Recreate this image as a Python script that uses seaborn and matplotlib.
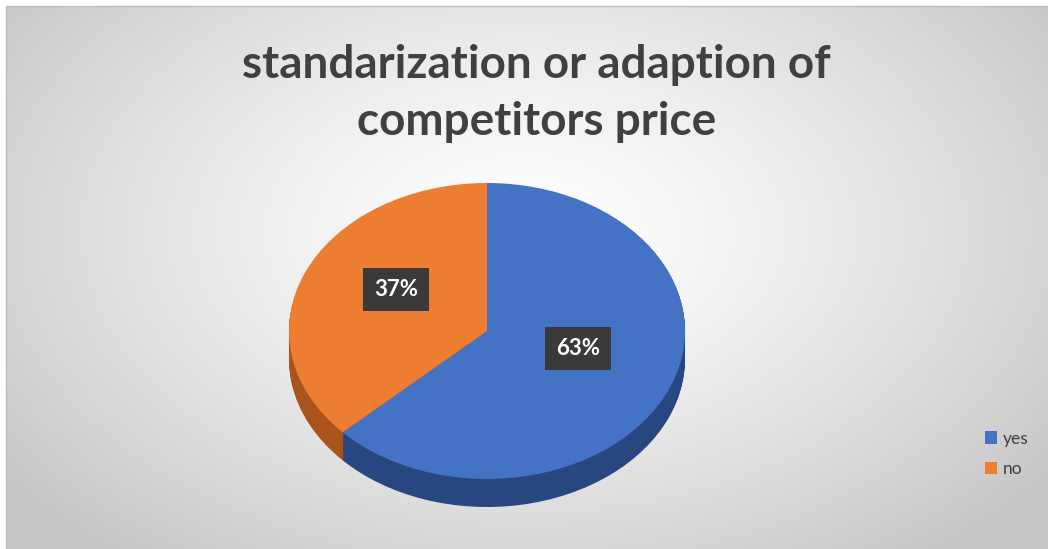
import numpy as np
import matplotlib
matplotlib.use('Agg')
import matplotlib.pyplot as plt
import seaborn as sns

# data
labels = ['yes', 'no']
shares = [63, 37]
title = 'standarization or adaption of\ncompetitors price'

sns.set_theme(style='white')
plt.rcParams['font.family'] = ['Lato', 'DejaVu Sans']

top_colors = ['#4472C4', '#ED7D31']
side_colors = ['#28467F', '#A9541C']

W, H = 1048, 549
fig = plt.figure(figsize=(W / 100, H / 100), dpi=100)

# radial grey background like the Excel chart area
bg = fig.add_axes([0, 0, 1, 1])
yy, xx = np.mgrid[0:H, 0:W]
r = np.sqrt(((xx - W * 0.5) / (W * 0.62)) ** 2 + ((yy - H * 0.42) / (H * 0.75)) ** 2)
shade = 1.0 - 0.22 * np.clip(r, 0, 1) ** 1.3
img = np.dstack([shade, shade, shade])
img[:6, :, :] = 1.0
img[:, :6, :] = 1.0
bg.imshow(img, extent=(0, W, H, 0), aspect='auto', interpolation='bilinear')
bg.plot([6, W], [6, 6], color='#bdbdbd', lw=1)
bg.plot([6, 6], [6, H], color='#bdbdbd', lw=1)
bg.set_xlim(0, W)
bg.set_ylim(H, 0)
bg.axis('off')

# pie axes: map unit radius to an ellipse (rx=198px, ry=148px)
cx, cy = 487, 331
rx, ry = 198, 148
depth = 28 / ry
ax = fig.add_axes([0, 0, 1, 1])
ax.patch.set_alpha(0)

# side of the 3D pie, stacked layers
for d in np.linspace(depth, 0.005, 30):
    ax.pie(shares, colors=side_colors, startangle=90, counterclock=False,
           center=(0, -d), radius=1, wedgeprops=dict(linewidth=0))

wedges, texts, autotexts = ax.pie(
    shares, colors=top_colors, startangle=90, counterclock=False,
    center=(0, 0), radius=1, autopct='%1.0f%%', pctdistance=0.5,
    wedgeprops=dict(linewidth=0),
    textprops=dict(color='white', fontsize=16, fontweight='bold'))
for t in autotexts:
    x, y = t.get_position()
    t.set_position((x, y + 12 / ry))
    t.set_bbox(dict(boxstyle='square,pad=0.5', facecolor='#3a3a3a', edgecolor='none'))

ax.set_aspect('auto')
ax.set_xlim(-cx / rx, (W - cx) / rx)
ax.set_ylim(-(H - cy) / ry, cy / ry)
ax.axis('off')

fig.text(0.512, 0.92, title, ha='center', va='top', fontsize=33,
         fontweight='bold', color='#404040', linespacing=1.45)

leg = ax.legend(wedges, labels, loc='center left', bbox_to_anchor=(0.925, 0.173),
                frameon=False, fontsize=12.5, handlelength=0.7, handleheight=0.7,
                handletextpad=0.3, labelspacing=0.85)
for t in leg.get_texts():
    t.set_color('#404040')

fig.savefig('out.png', dpi=100)
